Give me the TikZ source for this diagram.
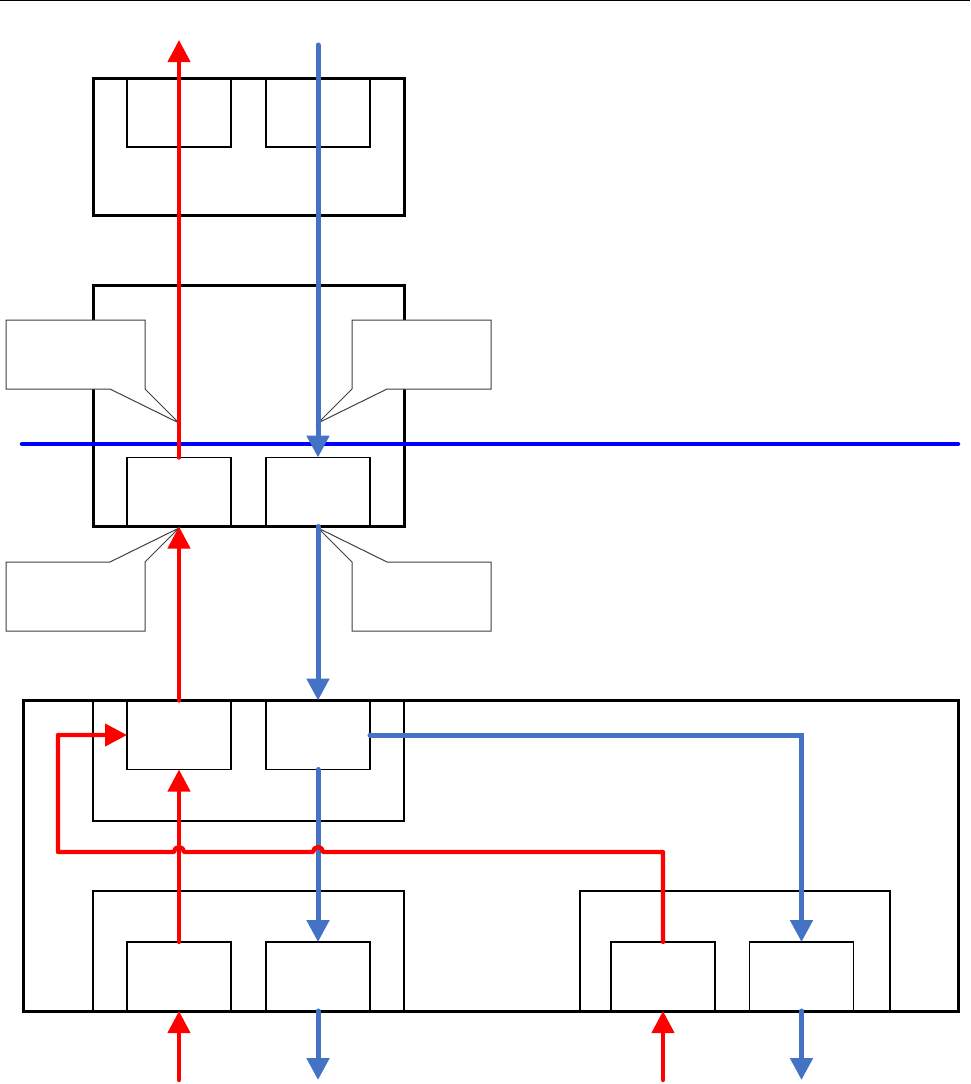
\documentclass[tikz,border=0pt]{standalone}
\usetikzlibrary{arrows.meta}
\definecolor{flowblue}{HTML}{4472C4}
\begin{document}
\begin{tikzpicture}[x=1pt,y=-1pt,
		port/.style={draw,line width=1.1pt,minimum width=104pt,minimum height=69pt,inner sep=0pt,outer sep=0pt},
		unit/.style={line width=3pt},
		frame/.style={line width=1.1pt},
		note/.style={draw=black!75,fill=white,line width=1pt},
		up/.style={red,line width=4.3pt,line cap=round,-{Triangle[length=22pt,width=22pt]}},
		down/.style={flowblue,line width=5pt,line cap=round,-{Triangle[length=22pt,width=22pt]}}]
		\useasboundingbox (0,0) rectangle (970,1084);
		\draw[line width=1pt] (0,0.5) -- (970,0.5);
		\draw[unit] (93,78) rectangle (404,215);
		\draw[unit] (93,285) rectangle (404,526);
		\draw[unit] (23,700) rectangle (958,1011);
		\draw[frame] (93,700) rectangle (404,821);
		\draw[frame] (93,891) rectangle (404,1011);
		\draw[frame] (580,891) rectangle (890,1011);
		\node[port] (t1) at (179,112.5) {};
		\node[port] (t2) at (318,112.5) {};
		\node[port] (m1) at (179,492) {};
		\node[port] (m2) at (318,492) {};
		\node[port] (u1) at (179,735) {};
		\node[port] (u2) at (318,735) {};
		\node[port] (l1) at (179,976.5) {};
		\node[port] (l2) at (318,976.5) {};
		\node[port] (r1) at (663,976.5) {};
		\node[port] (r2) at (801.5,976.5) {};
		\draw[note] (6,320) -- (145,320) -- (145,389) -- (179,423) -- (110,389) -- (6,389) -- cycle;
		\draw[note] (352,320) -- (491,320) -- (491,389) -- (387,389) -- (318,423) -- (352,389) -- cycle;
		\draw[note] (6,631) -- (6,562) -- (110,562) -- (179,528) -- (145,562) -- (145,631) -- cycle;
		\draw[note] (352,631) -- (352,562) -- (318,528) -- (387,562) -- (491,562) -- (491,631) -- cycle;
		\draw[blue,line width=4.5pt,line cap=round] (22,444) -- (958,444);
		\coordinate (outT) at (179,40);
		\coordinate (inT) at (318,45);
		\coordinate (inL) at (179,1080);
		\coordinate (outL) at (318,1080);
		\coordinate (inR) at (663,1080);
		\coordinate (outR) at (801.5,1080);
		\draw[up] (m1.north) -- (outT);
		\draw[down] (inT) -- (m2.north);
		\draw[up] (u1.north) -- (m1.south);
		\draw[down] (m2.south) -- (u2.north);
		\draw[up] (l1.north) -- (u1.south);
		\draw[down] (u2.south) -- (l2.north);
		\draw[up] (inL) -- (l1.south);
		\draw[down] (l2.south) -- (outL);
		\draw[up] (inR) -- (r1.south);
		\draw[down] (r2.south) -- (outR);
		\draw[down] (u2.east) -| (r2.north);
		\draw[up,line join=round] (r1.north) |- (323,852) arc (0:-180:5) -- (184,852) arc (0:-180:5) -- (58,852) |- (u1.west);
	\end{tikzpicture}
\end{document}
